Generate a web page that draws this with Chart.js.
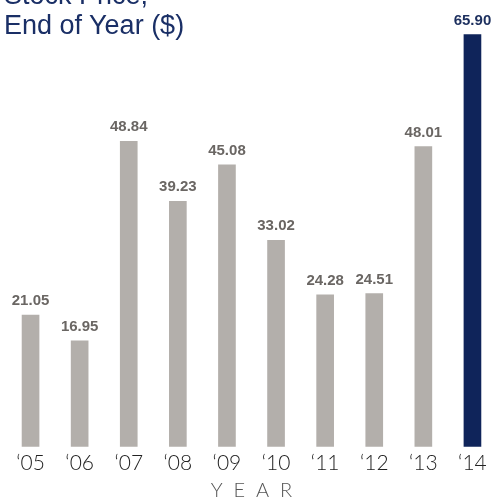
<!DOCTYPE html>
<html>
<head>
<meta charset="utf-8">
<script src="https://cdn.jsdelivr.net/npm/chart.js@4"></script>
<style>
  html, body { margin: 0; padding: 0; background: #fff; overflow: hidden; }
  #wrap { position: relative; width: 492px; height: 501px; overflow: hidden; }
  #box { position: absolute; left: 0; top: 0; width: 500px; height: 501px; }
  #title {
    position: absolute; left: 4px; top: -20px;
    font-family: "Liberation Sans", Arial, sans-serif;
    font-size: 27px; line-height: 30px; color: #1a2f66;
    white-space: nowrap;
  }
</style>
</head>
<body>
<div id="wrap">
  <div id="box"><canvas id="stockChart" width="500" height="501"></canvas></div>
  <div id="title">Stock Price,<br>End of Year ($)</div>
</div>
<script>
// Stock price at end of each year, '05 - '14
var years = ["\u201805", "\u201806", "\u201807", "\u201808", "\u201809",
             "\u201810", "\u201811", "\u201812", "\u201813", "\u201814"];
var prices = [21.05, 16.95, 48.84, 39.23, 45.08, 33.02, 24.28, 24.51, 48.01, 65.90];

var grayBar = "#b3afab";
var navyBar = "#0f245a";

// last year is highlighted in navy
var barColors = prices.map(function (v, i) {
  return i === prices.length - 1 ? navyBar : grayBar;
});

// draws the value above each bar
var valueLabels = {
  id: "valueLabels",
  afterDatasetsDraw: function (chart) {
    var ctx = chart.ctx;
    var meta = chart.getDatasetMeta(0);
    ctx.save();
    ctx.textAlign = "center";
    ctx.textBaseline = "alphabetic";
    meta.data.forEach(function (bar, i) {
      var last = i === prices.length - 1;
      ctx.font = "bold 15px 'Liberation Sans', Arial, sans-serif";
      ctx.fillStyle = last ? "#1c2f5e" : "#6a6663";
      ctx.fillText(prices[i].toFixed(2), bar.x, bar.y - 10);
    });
    ctx.restore();
  }
};

new Chart(document.getElementById("stockChart").getContext("2d"), {
  type: "bar",
  data: {
    labels: years,
    datasets: [{
      data: prices,
      backgroundColor: barColors,
      barThickness: 17,
      borderWidth: 0
    }]
  },
  options: {
    responsive: false,
    animation: false,
    layout: { padding: { left: 6, right: 3, top: 9, bottom: 0 } },
    plugins: {
      legend: { display: false },
      tooltip: { enabled: false }
    },
    scales: {
      x: {
        grid: { display: false, drawTicks: false },
        border: { display: false },
        ticks: {
          padding: 4,
          color: "#222",
          font: { family: "Lato", size: 21, weight: "300", lineHeight: 1.2 }
        },
        title: {
          display: true,
          text: "Y  E  A  R",
          color: "#555",
          padding: { top: 1, bottom: 0 },
          font: { family: "Lato", size: 20, weight: "300", lineHeight: 1 }
        }
      },
      y: {
        display: false,
        min: 0,
        max: 70
      }
    }
  },
  plugins: [valueLabels]
});
</script>
</body>
</html>
